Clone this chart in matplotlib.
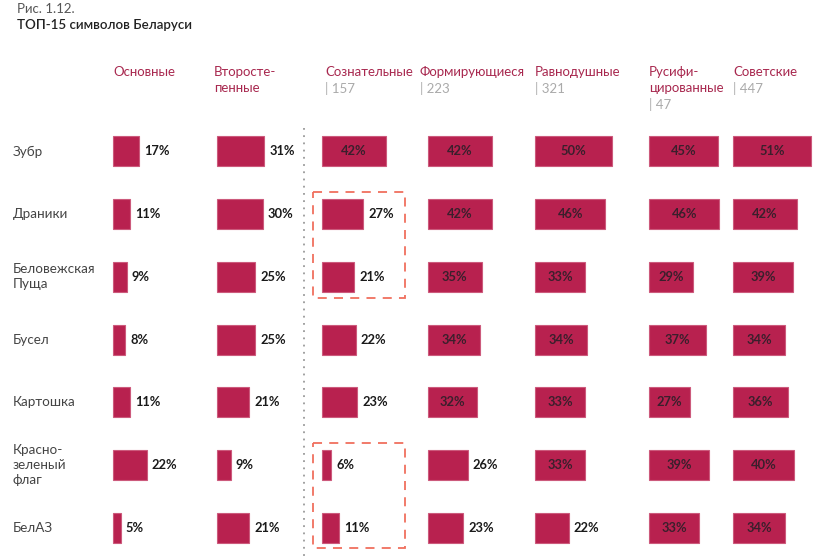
import matplotlib
matplotlib.use("Agg")
import matplotlib.pyplot as plt
from matplotlib.patches import Rectangle
from matplotlib.lines import Line2D

plt.rcParams['font.family'] = ['Lato', 'DejaVu Sans']

rows = ["Зубр", "Драники", "Беловежская\nПуща", "Бусел", "Картошка",
        "Красно-\nзеленый\nфлаг", "БелАЗ"]
columns = ["Основные", "Второсте-\nпенные", "Сознательные", "Формирующиеся",
           "Равнодушные", "Русифи-\nцированные", "Советские"]
counts = [None, None, "157", "223", "321", "47", "447"]

osnovnye = [17, 11, 9, 8, 11, 22, 5]
vtorostepennye = [31, 30, 25, 25, 21, 9, 21]
soznatelnye = [42, 27, 21, 22, 23, 6, 11]
formiruyushchiesya = [42, 42, 35, 34, 32, 26, 23]
ravnodushnye = [50, 46, 33, 34, 33, 33, 22]
rusifitsirovannye = [45, 46, 29, 37, 27, 39, 33]
sovetskie = [51, 42, 39, 34, 36, 40, 34]
values = [osnovnye, vtorostepennye, soznatelnye, formiruyushchiesya,
          ravnodushnye, rusifitsirovannye, sovetskie]

# layout (pixels)
W, H = 820, 557
col_x = [113, 217, 322, 428, 535, 649, 733]
head_x = [113, 214, 325, 420, 535, 649, 733]
inside_thr = [100, 100, 30, 27, 27, 27, 27]
px_per_pct = 1.53
row0, row_step = 151.5, 62.7
ax_top = 120
bar_h_px = 30

BAR = "#B8214F"
EDGE = "#CC5A7C"
HEAD = "#A8284F"

fig = plt.figure(figsize=(W / 100, H / 100), dpi=100)

def fy(py):
    return 1 - py / H

def fx(px):
    return px / W

fig.text(fx(17), fy(9), "Рис. 1.12.", fontsize=9.5, color="#555555", va="center", ha="left")
fig.text(fx(17), fy(25), "ТОП-15 символов Беларуси", fontsize=9.6, color="#222222",
         fontweight="semibold", va="center", ha="left")

ylim_top = (ax_top - row0) / row_step
ylim_bot = (H - row0) / row_step
xmax = 60
ax_w_px = xmax * px_per_pct
bar_h = bar_h_px / row_step

for j, (cx, vals) in enumerate(zip(col_x, values)):
    ax = fig.add_axes([fx(cx), 0, ax_w_px / W, (H - ax_top) / H])
    ax.set_xlim(0, xmax)
    ax.set_ylim(ylim_bot, ylim_top)
    ax.axis("off")
    ypos = list(range(len(rows)))
    ax.barh(ypos, vals, height=bar_h, color=BAR, edgecolor=EDGE, linewidth=0.8,
            clip_on=False)
    for i, v in enumerate(vals):
        if v >= inside_thr[j]:
            ax.text(v / 2, i, f"{v}%", ha="center", va="center", fontsize=9.3,
                    fontweight="bold", color="#3A1F2C", clip_on=False)
        else:
            ax.text(v + 5 / px_per_pct, i, f"{v}%", ha="left", va="center",
                    fontsize=9.3, fontweight="bold", color="#1A1A1A", clip_on=False)
    if j == 2:
        for (r1, r2) in [(1, 2), (5, 6)]:
            rect = Rectangle((-9 / px_per_pct, r1 - 0.35), 92 / px_per_pct,
                             (r2 - r1) + 0.68, fill=False, edgecolor="#F0705E",
                             linewidth=1.3, linestyle=(0, (5, 4)), clip_on=False)
            ax.add_patch(rect)

# headers
for j, (hx, name, cnt) in enumerate(zip(head_x, columns, counts)):
    fig.text(fx(hx), fy(66), name, fontsize=9.5, color=HEAD, va="top", ha="left",
             linespacing=1.45)
    if cnt is not None:
        nlines = name.count("\n") + 1
        fig.text(fx(hx), fy(66 + 16 * nlines), "| " + cnt, fontsize=9.5,
                 color="#AAAAAA", va="top", ha="left")

# row labels
for i, name in enumerate(rows):
    fig.text(fx(13), fy(row0 + row_step * i), name, fontsize=9.7, color="#444444",
             va="center", ha="left", linespacing=1.3)

# dotted separator
fig.add_artist(Line2D([fx(304), fx(304)], [fy(128), fy(H)], color="#9A9A9A",
                      linestyle=(0, (1, 3)), linewidth=1.3))

fig.savefig("out.png", dpi=100)
